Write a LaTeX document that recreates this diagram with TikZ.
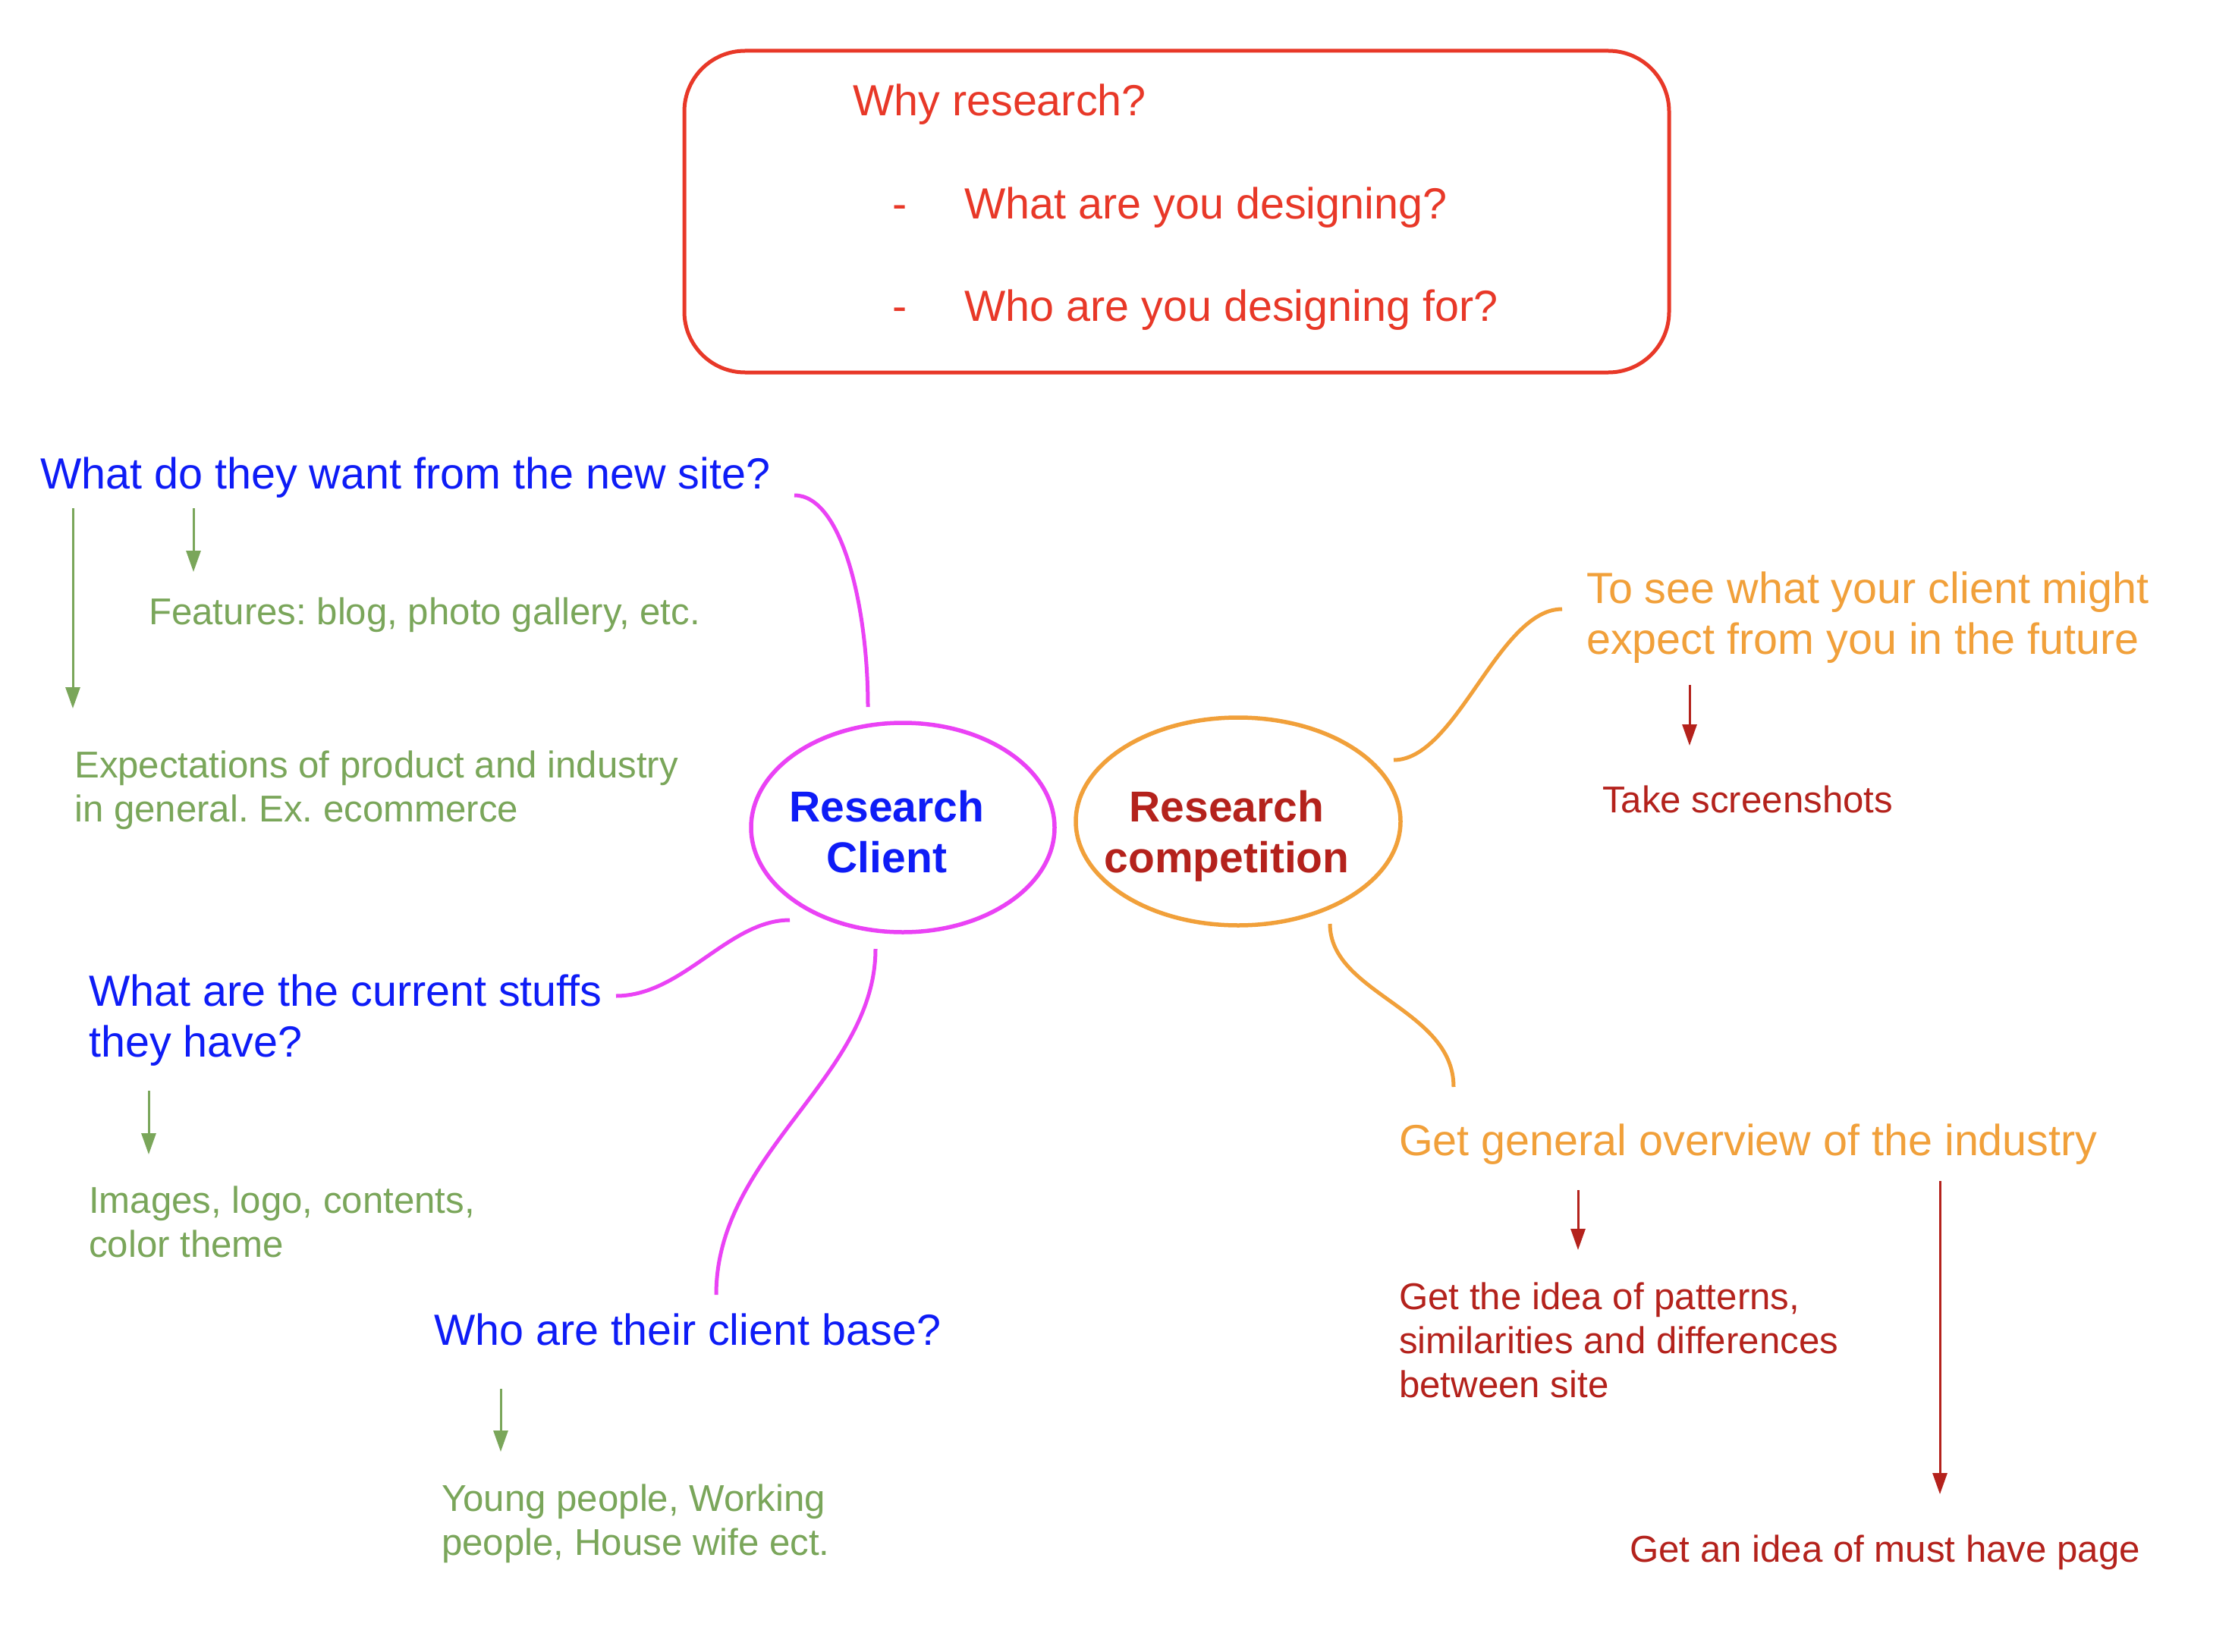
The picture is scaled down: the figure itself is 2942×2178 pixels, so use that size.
\documentclass[tikz,border=0pt]{standalone}
\usepackage{fontspec}
\setmainfont{Liberation Sans}
\usetikzlibrary{shapes.geometric,arrows.meta}
\definecolor{cblue}{RGB}{14,28,246}
\definecolor{cmag}{RGB}{234,66,245}
\definecolor{corange}{RGB}{241,160,58}
\definecolor{cdred}{RGB}{180,34,28}
\definecolor{cbred}{RGB}{232,56,40}
\definecolor{cgreen}{RGB}{122,166,90}
\frenchspacing
\newcommand{\mlines}[2][l]{\begin{tabular}[t]{@{}#1@{}}#2\end{tabular}}
\tikzset{
  big/.style={font=\fontsize{57.5}{67}\selectfont, inner sep=0pt, anchor=base west},
  small/.style={font=\fontsize{49.2}{58}\selectfont, inner sep=0pt, anchor=base west},
  hub/.style={font=\fontsize{57}{67}\selectfont\bfseries, inner sep=0pt, anchor=base},
  bubble/.style={ellipse, draw, line width=5.5pt, inner sep=0pt},
  branch/.style={line width=5pt, line cap=butt},
  garrow/.style={draw=cgreen, line width=3pt, -{Triangle[length=28pt,width=19pt]}},
  rarrow/.style={draw=cdred, line width=3pt, -{Triangle[length=28pt,width=19pt]}},
}
\begin{document}
\begin{tikzpicture}[x=1pt,y=-1pt]
\useasboundingbox (0,0) rectangle (2942,2178);
\fill[white] (0,0) rectangle (2942,2178);

% top box
\node[draw=cbred, line width=5pt, rounded corners=80pt, minimum width=1298pt, minimum height=424pt, inner sep=0pt] (whybox) at (1551,279) {};
\node[big, text=cbred] (why) at (1124,153) {Why research?};
\node[big, text=cbred] (dash1) at (1176,288) {-};
\node[big, text=cbred] (whatdes) at (1271,288) {What are you designing?};
\node[big, text=cbred] (dash2) at (1176,423) {-};
\node[big, text=cbred] (whodes) at (1271,423) {Who are you designing for?};

% hubs
\node[bubble, draw=cmag, minimum width=400pt, minimum height=276pt] (client) at (1190,1091) {};
\node[hub, text=cblue] (clientT) at (1169,1083) {\mlines[c]{Research\\Client}};
\node[bubble, draw=corange, minimum width=428pt, minimum height=274pt] (compet) at (1632,1083) {};
\node[hub, text=cdred] (competT) at (1617,1083) {\mlines[c]{Research\\competition}};

% client side
\node[big, text=cblue] (whatdo) at (53,644) {What do they want from the new site?};
\node[small, text=cgreen] (features) at (196,823) {Features: blog, photo gallery, etc.};
\node[small, text=cgreen] (expect) at (98,1025) {\mlines{Expectations of product and industry\\in general. Ex. ecommerce}};
\node[big, text=cblue] (current) at (117,1326) {\mlines{What are the current stuffs\\they have?}};
\node[small, text=cgreen] (images) at (117,1599) {\mlines{Images, logo, contents,\\color theme}};
\node[big, text=cblue] (base) at (572,1773) {Who are their client base?};
\node[small, text=cgreen] (young) at (582,1992) {\mlines{Young people, Working\\people, House wife ect.}};

% competition side
\node[big, text=corange] (tosee) at (2091,795) {\mlines{To see what your client might\\expect from you in the future}};
\node[small, text=cdred] (shots) at (2112,1071) {Take screenshots};
\node[big, text=corange] (overview) at (1844,1523) {Get general overview of the industry};
\node[small, text=cdred] (patterns) at (1844,1726) {\mlines{Get the idea of patterns,\\similarities and differences\\between site}};
\node[small, text=cdred] (musthave) at (2148,2059) {Get an idea of must have page};

% curve end points
\coordinate (m1a) at (1047,653);  \coordinate (m1b) at (1144,932);
\coordinate (m2a) at (1041,1213); \coordinate (m2b) at (812,1313);
\coordinate (m3a) at (1154,1251); \coordinate (m3b) at (944,1707);
\coordinate (o1a) at (1837,1002); \coordinate (o1b) at (2059,803);
\coordinate (o2a) at (1753,1218); \coordinate (o2b) at (1916,1433);

\draw[branch, cmag] (m1a) .. controls (1110,653) and (1144,800) .. (m1b);
\draw[branch, cmag] (m2a) .. controls (960,1213) and (900,1313) .. (m2b);
\draw[branch, cmag] (m3a) .. controls (1154,1420) and (944,1520) .. (m3b);
\draw[branch, corange] (o1a) .. controls (1920,1002) and (1975,803) .. (o1b);
\draw[branch, corange] (o2a) .. controls (1753,1310) and (1916,1330) .. (o2b);

% arrows
\coordinate (g1a) at (96,670);   \coordinate (g1b) at (96,934);
\coordinate (g2a) at (255,670);  \coordinate (g2b) at (255,754);
\coordinate (g3a) at (196,1438); \coordinate (g3b) at (196,1522);
\coordinate (g4a) at (660,1831); \coordinate (g4b) at (660,1914);
\draw[garrow] (g1a) -- (g1b);
\draw[garrow] (g2a) -- (g2b);
\draw[garrow] (g3a) -- (g3b);
\draw[garrow] (g4a) -- (g4b);

\coordinate (r1a) at (2227,903);  \coordinate (r1b) at (2227,983);
\coordinate (r2a) at (2080,1569); \coordinate (r2b) at (2080,1648);
\coordinate (r3a) at (2557,1557); \coordinate (r3b) at (2557,1970);
\draw[rarrow] (r1a) -- (r1b);
\draw[rarrow] (r2a) -- (r2b);
\draw[rarrow] (r3a) -- (r3b);
\end{tikzpicture}
\end{document}
